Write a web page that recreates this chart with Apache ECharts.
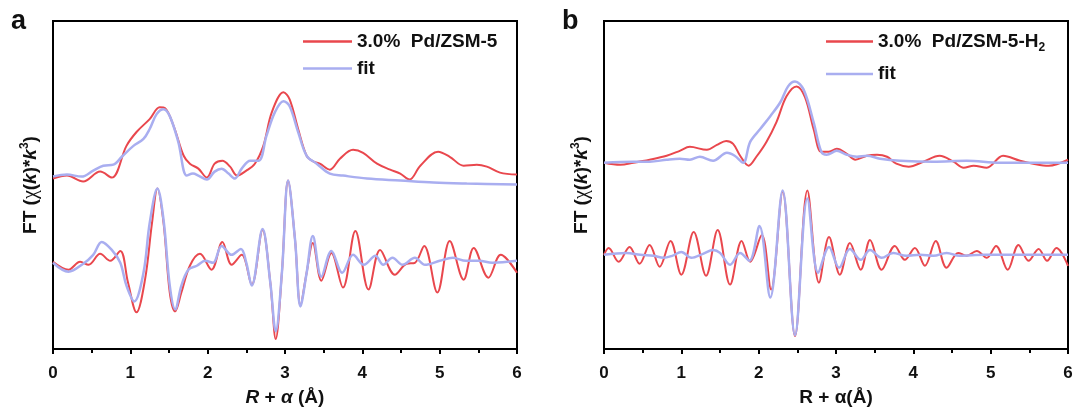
<!DOCTYPE html>
<html><head><meta charset="utf-8">
<script src="https://cdn.jsdelivr.net/npm/echarts@6/dist/echarts.min.js"></script>
<style>html,body{margin:0;padding:0;background:#fff}#c{width:1077px;height:412px}</style>
</head><body><div id="c"></div>
<script>
// ---- data (R in Å, intensity in arbitrary units, curves vertically offset as in the figure) ----
const xTicks = [0, 1, 2, 3, 4, 5, 6];
const nameA = '3.0%  Pd/ZSM-5';
const nameB = '3.0%  Pd/ZSM-5-H2';
const nameFit = 'fit';

// panel a, magnitude (top)
const aTopDataR = [0,0.18,0.39,0.61,0.76,0.95,1.08,1.25,1.38,1.45,1.56,1.69,1.77,1.88,1.99,2.09,2.19,2.29,2.38,2.50,2.61,2.72,2.83,2.98,3.06,3.17,3.28,3.37,3.45,3.58,3.71,3.88,4.01,4.19,4.36,4.49,4.61,4.75,4.98,5.13,5.31,5.48,5.61,5.78,6];
const aTopDataY = [172,175,169,179,173,205,219,232,244,243,225,195,187,182,173,187,190,184,175,180,187,205,239,259,252,222,195,189,187,181,192,201,198,187,181,177,171,185,199,194,185,186,184,178,176];
const aTopFitR = [0,0.18,0.37,0.52,0.65,0.78,0.89,1.04,1.17,1.25,1.34,1.43,1.51,1.62,1.73,1.81,1.88,1.99,2.09,2.18,2.27,2.35,2.44,2.55,2.66,2.76,2.87,2.98,3.06,3.17,3.28,3.41,3.58,3.75,4.06,4.49,4.92,5.35,6];
const aTopFitY = [174,176,174,180,185,186,194,205,212,222,237,242,235,209,175,177,175,171,179,182,177,172,182,190,190,215,239,250,245,219,195,187,177,175,172,170,168,167,166];
// panel a, imaginary part (bottom)
const aBotDataR = [0,0.20,0.35,0.46,0.61,0.74,0.87,0.97,1.08,1.19,1.28,1.35,1.43,1.51,1.58,1.66,1.77,1.90,2.05,2.19,2.31,2.44,2.57,2.71,2.81,2.88,2.96,3.04,3.13,3.20,3.28,3.36,3.47,3.60,3.75,3.91,4.08,4.23,4.42,4.57,4.68,4.80,4.97,5.13,5.31,5.44,5.63,5.79,6];
const aBotDataY = [88,80,88,85,96,89,99,67,37,70,127,162,127,57,38,57,84,96,80,108,85,95,65,120,67,10,77,170,110,44,77,107,69,97,62,119,60,100,75,86,87,104,57,109,70,102,72,95,77];
const aBotFitR = [0,0.20,0.39,0.52,0.63,0.76,0.87,0.95,1.05,1.17,1.25,1.35,1.43,1.51,1.58,1.66,1.75,1.86,1.97,2.07,2.18,2.31,2.43,2.50,2.57,2.71,2.81,2.88,2.96,3.04,3.13,3.20,3.28,3.36,3.47,3.60,3.74,3.88,4.02,4.17,4.27,4.39,4.52,4.68,4.81,5.00,5.17,5.34,5.51,5.68,6];
const aBotFitY = [87,78,86,95,108,100,87,64,48,77,127,162,130,64,40,64,80,84,89,87,104,95,101,87,64,121,67,18,77,170,110,43,77,114,73,99,77,95,85,94,85,92,85,92,85,89,92,89,89,87,89];

// panel b, magnitude (top)
const bTopDataR = [0,0.21,0.38,0.59,0.81,0.98,1.11,1.33,1.46,1.58,1.67,1.76,1.87,1.97,2.10,2.23,2.36,2.49,2.60,2.71,2.81,2.90,3.01,3.14,3.25,3.40,3.53,3.66,3.78,3.94,4.13,4.34,4.52,4.65,4.78,4.95,5.16,5.38,5.55,5.75,6];
const bTopDataY = [188,186,188,191,195,200,204,201,206,210,207,195,185,194,209,229,255,265,254,222,199,199,202,197,191,195,196,194,187,184,189,195,189,183,185,183,195,190,187,185,191];
const bTopFitR = [0,0.38,0.59,0.81,0.98,1.11,1.24,1.41,1.59,1.69,1.80,1.89,2.02,2.15,2.28,2.38,2.47,2.58,2.71,2.81,2.88,3.01,3.14,3.27,3.40,3.57,3.83,4.26,4.69,5.12,5.55,6];
const bTopFitY = [188,189,189,191,192,191,194,190,198,195,188,209,222,235,249,265,270,262,229,199,196,200,196,194,195,192,190,189,190,188,188,188];
// panel b, imaginary part (bottom)
const bBotDataR = [0,0.06,0.19,0.33,0.46,0.59,0.72,0.86,1.00,1.16,1.32,1.47,1.63,1.78,1.89,2.04,2.16,2.31,2.47,2.63,2.78,2.91,3.05,3.18,3.32,3.44,3.59,3.76,3.89,4.02,4.15,4.29,4.43,4.58,4.69,4.82,4.95,5.07,5.22,5.36,5.49,5.62,5.73,5.85,6];
const bBotDataY = [95,102,88,103,86,105,83,109,75,118,74,120,65,109,88,115,60,159,13,160,67,113,75,107,80,110,80,104,90,102,84,109,82,97,94,99,92,104,80,105,89,101,89,102,84];
const bBotFitR = [0,0.29,0.47,0.64,0.77,0.88,1.00,1.13,1.28,1.41,1.50,1.63,1.76,1.88,2.01,2.15,2.31,2.47,2.63,2.77,2.91,3.04,3.18,3.32,3.44,3.59,3.74,3.91,4.09,4.26,4.43,4.60,4.91,5.34,6];
const bBotFitY = [95,97,95,94,92,94,98,92,96,100,97,85,97,89,124,52,160,14,152,77,103,82,101,90,100,92,97,94,95,94,97,94,95,95,95];

// ---- styles ----
const RED = '#e9474d';
const BLUE = '#a9aef0';
const FONT = 'Liberation Sans, Arial, sans-serif';

const pairs = (R, Y) => R.map((r, i) => [r, Y[i]]);
function line(name, R, Y, idx, color, width, z) {
  return {
    type: 'line', name, data: pairs(R, Y), xAxisIndex: idx, yAxisIndex: idx,
    showSymbol: false, symbol: 'none', smooth: 0.35, z,
    lineStyle: { color, width }, itemStyle: { color }, emphasis: { disabled: true }
  };
}
function xAx(idx, name, rich) {
  return {
    type: 'value', gridIndex: idx, min: xTicks[0], max: xTicks[xTicks.length - 1], interval: 1,
    axisLine: { show: true, lineStyle: { color: '#000', width: 2 } },
    axisTick: { show: true, inside: false, length: 5, lineStyle: { color: '#000', width: 2 } },
    minorTick: { show: true, splitNumber: 2, length: 4, lineStyle: { color: '#000', width: 2 } },
    splitLine: { show: false },
    axisLabel: { margin: 16, fontSize: 17, fontWeight: 'bold', color: '#111', fontFamily: FONT },
    name, nameLocation: 'middle', nameGap: 39,
    nameTextStyle: { fontSize: 19, fontWeight: 'bold', color: '#111', fontFamily: FONT, rich }
  };
}
const yRich = {
  t: { fontSize: 19, fontWeight: 'bold', color: '#111', fontFamily: FONT, lineHeight: 24 },
  c: { fontSize: 20, fontWeight: 'normal', color: '#111', fontFamily: 'Liberation Serif, serif', lineHeight: 24 },
  k: { fontSize: 19, fontWeight: 'bold', fontStyle: 'italic', color: '#111', fontFamily: FONT, lineHeight: 24 },
  s: { fontSize: 12, fontWeight: 'bold', color: '#111', fontFamily: FONT, verticalAlign: 'top', lineHeight: 15 }
};
function yAx(idx) {
  return {
    type: 'value', gridIndex: idx, min: 0, max: 331,
    axisLine: { show: false }, axisTick: { show: false }, axisLabel: { show: false }, splitLine: { show: false },
    name: '{t|FT (}{c|χ}{t|(}{k|k}{t|)*}{k|k}{s|3}{t|)}', nameLocation: 'middle', nameGap: 10,
    nameTextStyle: { rich: yRich, fontSize: 19, fontWeight: 'bold', fontFamily: FONT }
  };
}
const legendText = { fontSize: 19, fontWeight: 'bold', color: '#111', fontFamily: FONT,
  rich: { n: { fontSize: 19, fontWeight: 'bold', color: '#111', fontFamily: FONT, lineHeight: 24 },
          sub: { fontSize: 12, fontWeight: 'bold', color: '#111', fontFamily: FONT, verticalAlign: 'bottom', lineHeight: 12 } } };

const option = {
  animation: false,
  backgroundColor: '#fff',
  grid: [
    { left: 53, top: 21, width: 464, height: 331, show: true, borderColor: '#000', borderWidth: 2, containLabel: false },
    { left: 604, top: 21, width: 464, height: 331, show: true, borderColor: '#000', borderWidth: 2, containLabel: false }
  ],
  xAxis: [
    xAx(0, '{i|R} + {i|α} (Å)', { i: { fontSize: 19, fontWeight: 'bold', fontStyle: 'italic', color: '#111', fontFamily: FONT } }),
    xAx(1, 'R + α(Å)', {})
  ],
  yAxis: [yAx(0), yAx(1)],
  legend: [
    { data: [nameA, nameFit], orient: 'vertical', left: 303, top: 32, padding: 0, icon: 'rect',
      itemWidth: 49, itemHeight: 2.5, itemGap: 8, textStyle: legendText, selectedMode: false,
      formatter: n => '{n|' + n + '}' },
    { data: [nameB, nameFit], orient: 'vertical', left: 826, top: 32, padding: 0, icon: 'rect',
      itemWidth: 47, itemHeight: 2.5, itemGap: 11, textStyle: legendText, selectedMode: false,
      formatter: n => n === nameB ? '{n|3.0%  Pd/ZSM-5-H}{sub|2}' : '{n|' + n + '}' }
  ],
  graphic: [
    { type: 'text', left: 11, top: 8, style: { text: 'a', font: 'bold 27px ' + FONT, fill: '#111' } },
    { type: 'text', left: 562, top: 8, style: { text: 'b', font: 'bold 27px ' + FONT, fill: '#111' } }
  ],
  series: [
    line(nameA, aTopDataR, aTopDataY, 0, RED, 2, 2),
    line(nameFit, aTopFitR, aTopFitY, 0, BLUE, 2.5, 3),
    line(nameA, aBotDataR, aBotDataY, 0, RED, 2, 2),
    line(nameFit, aBotFitR, aBotFitY, 0, BLUE, 2.5, 3),
    line(nameB, bTopDataR, bTopDataY, 1, RED, 2, 2),
    line(nameFit, bTopFitR, bTopFitY, 1, BLUE, 2.5, 3),
    line(nameB, bBotDataR, bBotDataY, 1, RED, 2, 2),
    line(nameFit, bBotFitR, bBotFitY, 1, BLUE, 2.5, 3)
  ]
};
const chart = echarts.init(document.getElementById('c'), null, { renderer: 'canvas' });
chart.setOption(option);
</script>
</body></html>
